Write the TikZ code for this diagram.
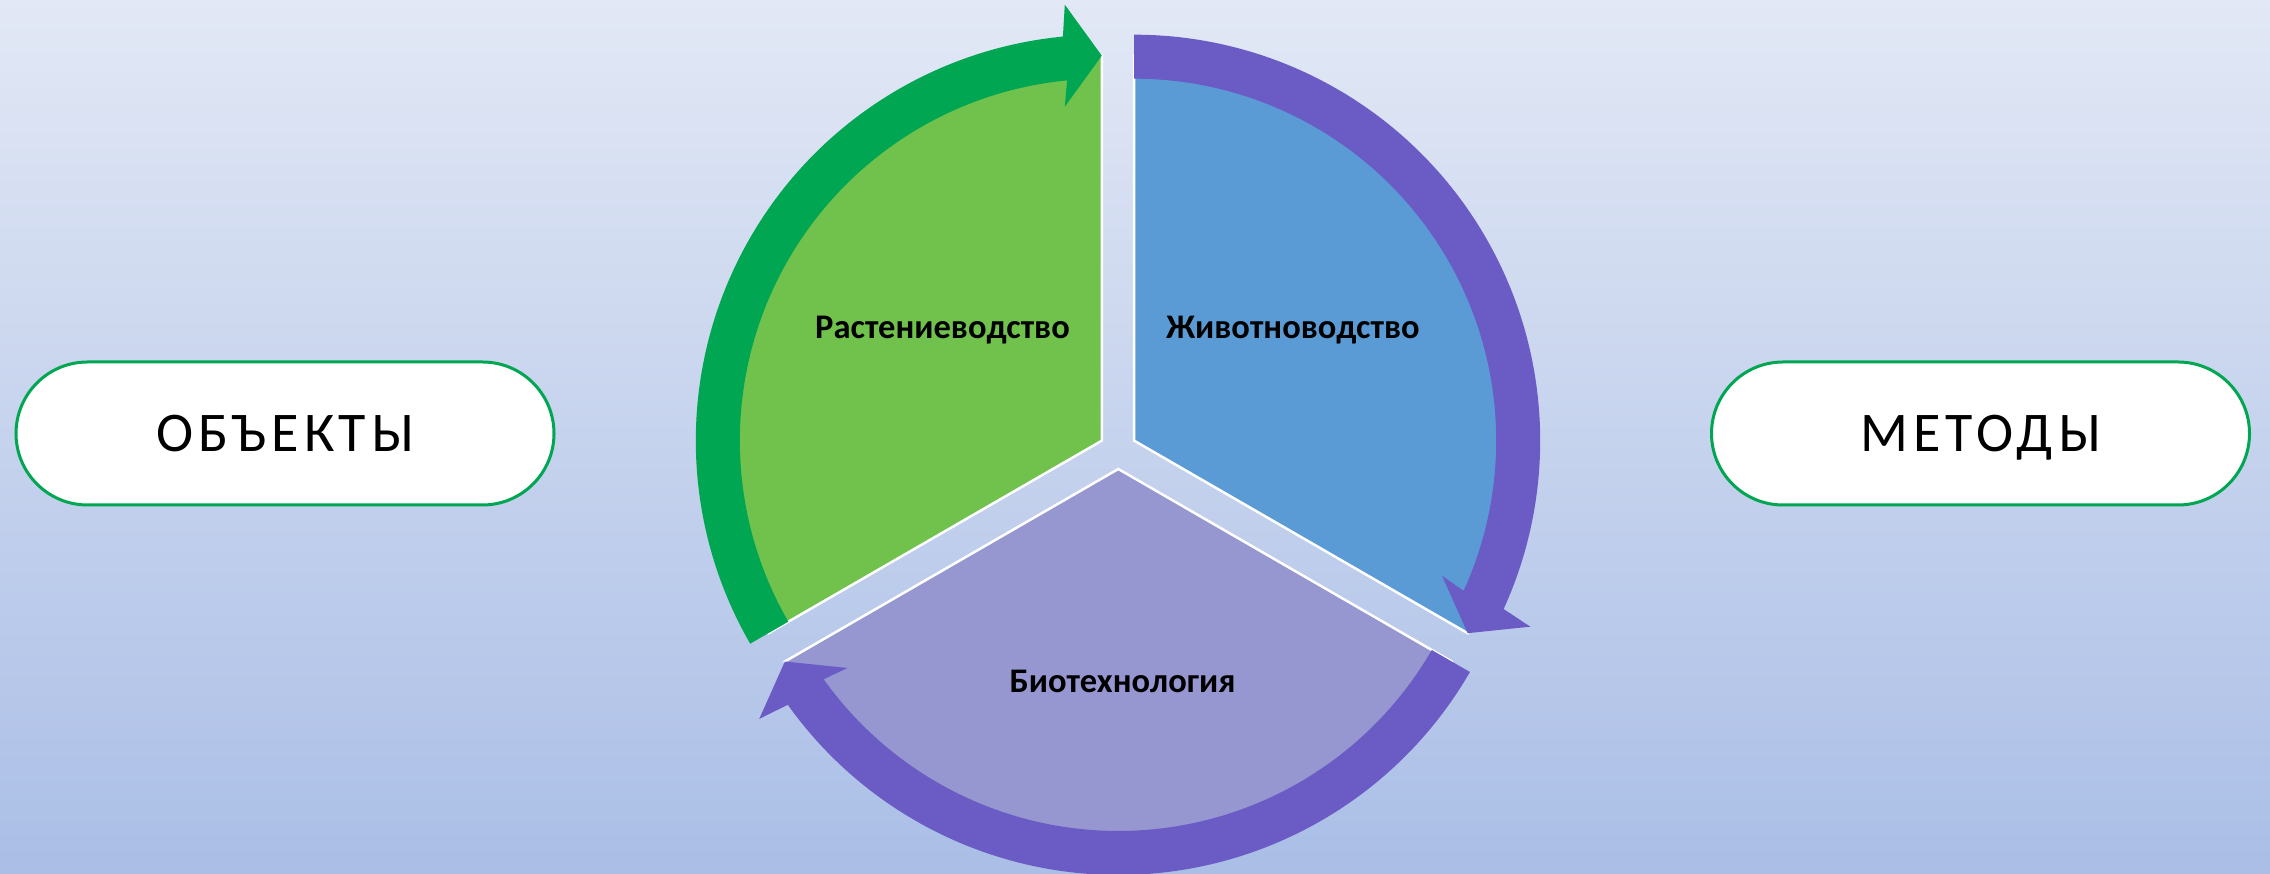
\documentclass[tikz,border=0pt]{standalone}
\usepackage{fontspec}
\setmainfont{Carlito}
\definecolor{bgtop}{RGB}{226,232,245}
\definecolor{bgbot}{RGB}{170,190,230}
\definecolor{plantgreen}{RGB}{112,194,77}
\definecolor{arrowgreen}{RGB}{0,166,81}
\definecolor{animalblue}{RGB}{91,155,213}
\definecolor{biolilac}{RGB}{150,150,208}
\definecolor{arrowviolet}{RGB}{106,92,196}
\tikzset{
  seclabel/.style={font=\fontsize{34.5}{38}\selectfont\bfseries, anchor=base, inner sep=0pt},
  pill/.style={draw=arrowgreen, line width=3pt, fill=white, rounded corners=71.5pt,
    minimum width=538pt, minimum height=143pt, inner sep=0pt,
    font=\fontsize{56}{60}\selectfont\addfontfeatures{LetterSpace=9}, text height=36pt, text depth=0pt}
}
\begin{document}
\begin{tikzpicture}[x=1pt,y=1pt]
\useasboundingbox (0,0) rectangle (2270,874);
\shade[top color=bgtop,bottom color=bgbot] (0,0) rectangle (2270,874);
\clip (0,0) rectangle (2270,874);
\coordinate (G) at (1101.8,433.3); \coordinate (B) at (1134.2,433.3); \coordinate (P) at (1118.3,405);
% the three sectors
\foreach \c/\col/\a/\b in {G/plantgreen/90/210,B/animalblue/-30/90,P/biolilac/210/330}
  \filldraw[fill=\col,draw=white,line width=2.5pt] (\c) -- ++(\a:385) arc[start angle=\a,end angle=\b,radius=385] -- cycle;
% circular arrows
\begin{scope}[shift={(G)}]
\fill[arrowgreen] (210:406) arc[start angle=210,end angle=95.5,radius=406] -- (-37,436) -- (90:385) -- (-37,334)
  -- (95.5:362) arc[start angle=95.5,end angle=210,radius=362] -- cycle;
\end{scope}
\begin{scope}[shift={(B)}]
\fill[arrowviolet] (90:406) arc[start angle=90,end angle=-24.5,radius=406] -- (396.1,-186) -- (-30:385) -- (307.8,-135)
  -- (-24.5:362) arc[start angle=-24.5,end angle=90,radius=362] -- cycle;
\end{scope}
\begin{scope}[shift={(P)}]
\fill[arrowviolet] (330:406) arc[start angle=330,end angle=215.5,radius=406] -- (-359.1,-250) -- (210:385) -- (-270.8,-199)
  -- (215.5:362) arc[start angle=215.5,end angle=330,radius=362] -- cycle;
\end{scope}
\node[seclabel] (plant) at (942.5,535) {Растениеводство};
\node[seclabel] (animal) at (1293,535) {Животноводство};
\node[seclabel] (biotech) at (1122.5,181) {Биотехнология};
\node[pill] (objects) at (285,440.5) {ОБЪЕКТЫ};
\node[pill] (methods) at (1980.5,440.5) {МЕТОДЫ};
\end{tikzpicture}
\end{document}
